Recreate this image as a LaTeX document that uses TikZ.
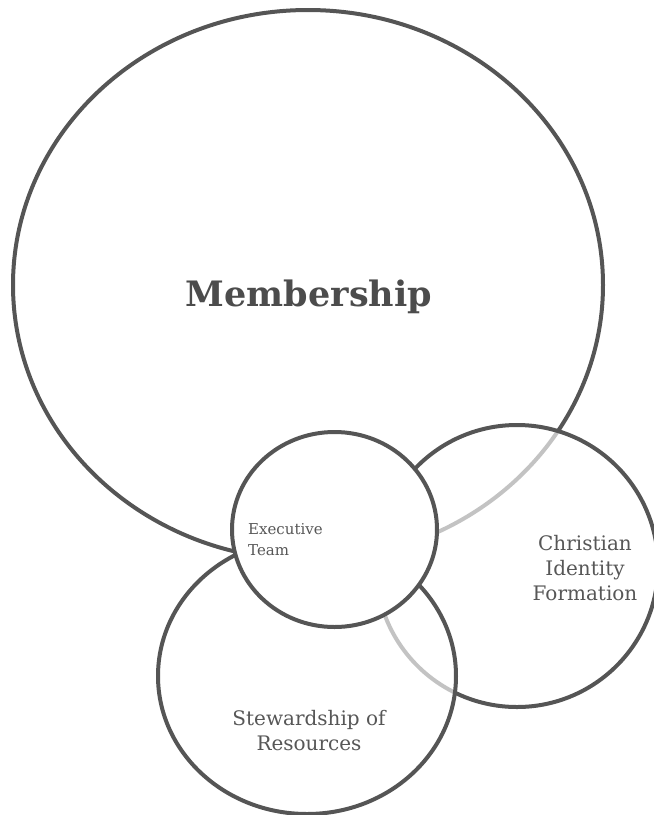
\documentclass[tikz,border=0pt]{standalone}
\usepackage{fontspec}
\setmainfont{DejaVu Serif}
\usepackage{xcolor}
\usepackage{tikz}
\usetikzlibrary{shapes.geometric}
\definecolor{rimgray}{HTML}{555555}
\definecolor{textgray}{HTML}{575757}

\begin{document}
\begin{tikzpicture}[x=1pt, y=-1pt,
  ring/.style={draw=rimgray, line width=4pt, ellipse, inner sep=0pt},
  veil/.style={fill=white, fill opacity=0.65},
  words/.style={text=textgray, font=\fontsize{20}{25}\selectfont, align=center, inner sep=0pt}]
            \useasboundingbox (0,0) rectangle (654,815);
            \node (member) [ring, minimum width=590pt, minimum height=550pt] at (308,285) {};
            \node (christian) [ring, veil, minimum width=282pt, minimum height=282pt] at (517,566) {};
            \node (steward) [ring, veil, minimum width=298pt, minimum height=276pt] at (307,676) {};
            \node (exec) [ring, fill=white, minimum width=205pt, minimum height=195pt] at (334.5,529.5) {};

            \node (membertext) [words, anchor=base, text=black!70, font=\fontsize{35}{42}\selectfont\bfseries] at (309,306) {Membership};
            \node (christiantext) [words] at (585,568) {Christian\\Identity\\Formation};
            \node (stewardtext) [words] at (309,731) {Stewardship of\\Resources};
            \node (exectext) [words, align=left, anchor=west, font=\fontsize{15}{21}\selectfont] at (248,540) {Executive\\Team};
        \end{tikzpicture}
\end{document}
